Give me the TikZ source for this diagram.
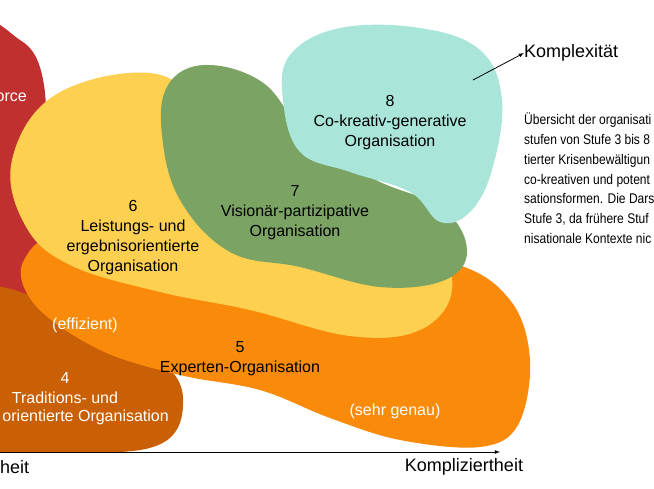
\documentclass[tikz,border=0pt]{standalone}
\usepackage{fontspec}
\setmainfont{Liberation Sans}
\newfontfamily\narrowfont[FakeStretch=0.86]{Liberation Sans}
\begin{document}
\begin{tikzpicture}[
        x=1pt, y=-1pt,
        every node/.style={font=\fontsize{16}{20}\selectfont, align=center, inner sep=0pt},
        blob/.style={draw=none},
        lbl/.style={text=black},
        wlbl/.style={text=white},
        axl/.style={font=\fontsize{18}{20}\selectfont},
        ar/.style={-latex, thick},
    ]
    \definecolor{stufeD}{HTML}{C0302F}
    \definecolor{stufeV}{HTML}{C96006}
    \definecolor{stufeF}{HTML}{F98A0A}
    \definecolor{stufeS}{HTML}{FDD050}
    \definecolor{stufeG}{HTML}{7BA364}
    \definecolor{stufeA}{HTML}{A9E6D9}

    \useasboundingbox (0,0) rectangle (654,489);
    \clip (0,0) rectangle (654,489);

    % blobs
    \fill[stufeD, blob] plot[smooth cycle, tension=0.6] coordinates
        {(-30,40) (20,40) (44,85) (46,200) (44,285) (-30,295)};
    \fill[stufeV, blob] (-30,452) -- (-30,285)
        .. controls (40,280) and (80,335) .. (130,350)
        .. controls (170,360) and (185,380) .. (183,405)
        .. controls (182,440) and (160,450) .. (120,452) -- cycle;
    \fill[stufeF, blob] plot[smooth cycle, tension=0.6] coordinates
        {(24,260) (80,232) (300,235) (450,262) (510,300) (530,360) (518,425) (480,447)
         (400,440) (330,418) (260,390) (180,375) (100,350) (35,305)};
    \fill[stufeS, blob] plot[smooth cycle, tension=0.65] coordinates
        {(12,160) (55,95) (150,73) (205,110) (265,180) (350,210) (430,240) (452,290)
         (420,330) (350,336) (250,310) (160,292) (70,265) (25,225)};
    \fill[stufeG, blob] plot[smooth cycle, tension=0.65] coordinates
        {(168,85) (205,65) (262,82) (305,132) (372,178) (442,208) (467,250) (445,280)
         (380,287) (300,267) (230,252) (180,200) (162,135)};
    \fill[stufeA, blob] plot[smooth cycle, tension=0.65] coordinates
        {(290,55) (340,28) (420,28) (480,50) (502,100) (492,170) (470,212) (440,222)
         (410,192) (350,172) (300,152) (283,100)};

    % labels
    \node[wlbl, anchor=east] (n3) at (27,97) {orce};
    \node[lbl] (n8) at (390,123) {8\\Co-kreativ-generative\\Organisation};
    \node[lbl] (n7) at (295,213) {7\\Visionär-partizipative\\Organisation};
    \node[lbl] (n6) at (133,238) {6\\Leistungs- und\\ergebnisorientierte\\Organisation};
    \node[lbl] (n5) at (240,359) {5\\Experten-Organisation};
    \node[wlbl] (n4a) at (65,388) {4\\Traditions- und};
    \node[wlbl, anchor=east] (n4b) at (169,417) {orientierte Organisation};
    \node[wlbl] (eff) at (85,325) {(effizient)};
    \node[wlbl] (gen) at (395,411) {(sehr genau)};

    % axes
    \coordinate (x0) at (-5,452);
    \coordinate (x1) at (500,452);
    \draw[ar] (x0) -- (x1);
    \node[axl, anchor=west] (xl) at (0,467) {heit};
    \node[axl] (xr) at (464,467) {Kompliziertheit};
    \coordinate (k0) at (473,80);
    \node[axl, anchor=west] (kl) at (524,53) {Komplexität};
    \draw[ar] (k0) -- (kl.west);

    \node[anchor=north west, align=left, font=\narrowfont\fontsize{14}{19.7}\selectfont] (txt) at (524,113)
        {Übersicht der organisati\\stufen von Stufe 3 bis 8\\tierter Krisenbewältigun\\co-kreativen und potent\\sationsformen. Die Dars\\Stufe 3, da frühere Stuf\\nisationale Kontexte nic};
\end{tikzpicture}
\end{document}
